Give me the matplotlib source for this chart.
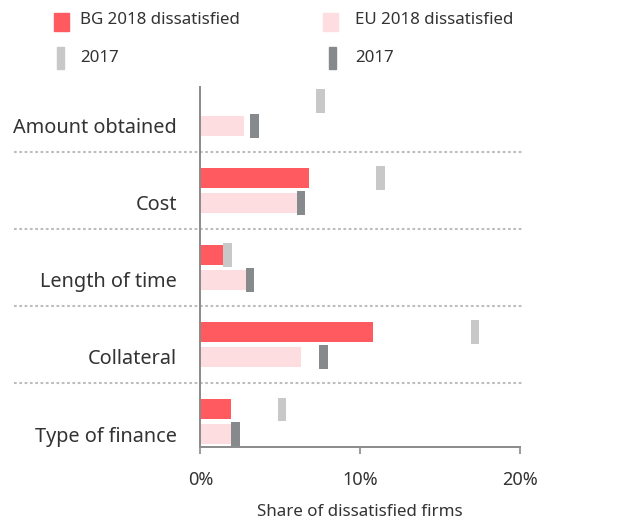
import matplotlib
matplotlib.use("Agg")
import matplotlib.pyplot as plt
import matplotlib.transforms as mtransforms
from matplotlib.patches import Rectangle

# --- data (share of dissatisfied firms, %) ---
categories = ["Amount obtained", "Cost", "Length of time", "Collateral", "Type of finance"]
bg_2018 = [0.0, 6.8, 1.5, 10.8, 1.9]
eu_2018 = [2.7, 6.1, 2.9, 6.3, 1.9]
bg_2017 = [7.5, 11.3, 1.7, 17.2, 5.1]
eu_2017 = [3.4, 6.3, 3.1, 7.7, 2.2]
xticks = [0, 10, 20]
xtick_labels = ["0%", "10%", "20%"]

# --- style ---
RED = "#ff5a5f"
PINK = "#fddde0"
LGRAY = "#c8c8c8"
DGRAY = "#878a8d"
TXT = "#333333"
AXC = "#8a8a8a"

plt.rcParams['font.family'] = ['Noto Sans', 'DejaVu Sans']

fig = plt.figure(figsize=(6.25, 5.21), dpi=100)
ax = fig.add_axes([0.3208, 0.142, 0.5107, 0.691])

off = 0.162
bar_h = 0.26
mark_h = 0.30
mark_w = 0.55
ypos = list(range(len(categories)))
y_bg = [y - off for y in ypos]
y_eu = [y + off for y in ypos]

ax.barh(y_bg, bg_2018, height=bar_h, color=RED, zorder=2)
ax.barh(y_eu, eu_2018, height=bar_h, color=PINK, zorder=2)
ax.barh(y_bg, [mark_w] * len(bg_2017), left=[v - mark_w / 2 for v in bg_2017],
        height=mark_h, color=LGRAY, zorder=3)
ax.barh(y_eu, [mark_w] * len(eu_2017), left=[v - mark_w / 2 for v in eu_2017],
        height=mark_h, color=DGRAY, zorder=3)

# separators between categories
trans = mtransforms.blended_transform_factory(ax.transAxes, ax.transData)
for y in ypos[:-1]:
    ax.plot([-0.585, 1.01], [y + 0.5, y + 0.5], transform=trans, clip_on=False,
            color="#bdbdbd", lw=1.5, linestyle=(0, (1.3, 1.25)), zorder=1)

ax.set_xlim(0, 20)
ax.set_ylim(4.331, -0.344)
ax.set_xticks(xticks)
ax.set_xticklabels(xtick_labels)
ax.set_yticks(y_eu)
ax.set_yticklabels(categories)
ax.tick_params(axis='y', length=0, pad=17, labelsize=14.3, labelcolor=TXT)
ax.tick_params(axis='x', length=5, width=1.2, color=AXC, pad=12, labelsize=13, labelcolor=TXT)
ax.set_xlabel("Share of dissatisfied firms", fontsize=12.2, color=TXT, labelpad=11)

for s in ["top", "right"]:
    ax.spines[s].set_visible(False)
for s in ["left", "bottom"]:
    ax.spines[s].set_color(AXC)
    ax.spines[s].set_linewidth(1.4)
    ax.spines[s].set_zorder(4)

# legend drawn by hand
W, H = 625, 521
def fig_rect(x0, y0, w, h, color):
    fig.patches.append(Rectangle((x0 / W, 1 - (y0 + h) / H), w / W, h / H,
                                 transform=fig.transFigure, color=color, figure=fig))

fig_rect(54, 13, 15, 18, RED)
fig_rect(323, 13, 15, 18, PINK)
fig_rect(57, 47, 7, 22, LGRAY)
fig_rect(329, 47, 7, 22, DGRAY)
for x, y, s in [(80, 20, "BG 2018 dissatisfied"), (355, 20, "EU 2018 dissatisfied"),
                (80, 58, "2017"), (355, 58, "2017")]:
    fig.text(x / W, 1 - y / H, s, fontsize=12.2, color=TXT, va="center", ha="left")

fig.savefig("out.png", dpi=100)
